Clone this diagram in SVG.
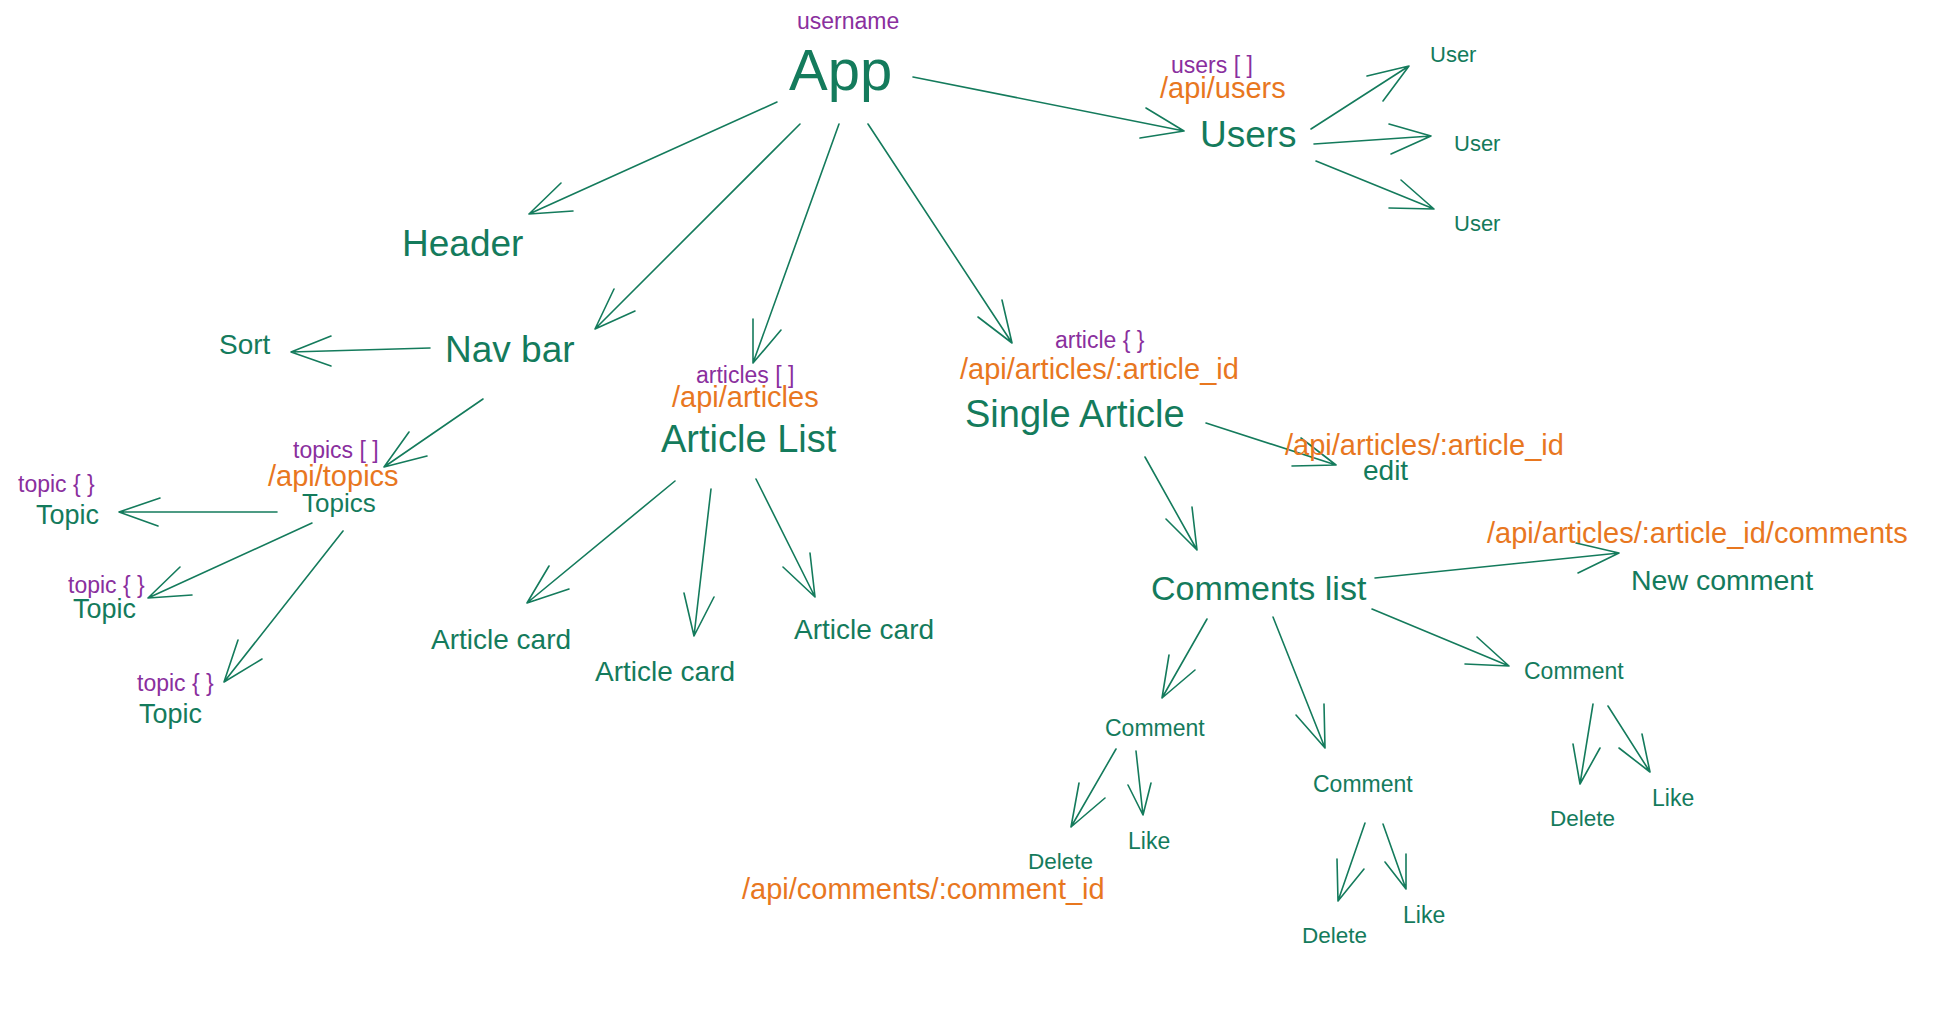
<svg xmlns="http://www.w3.org/2000/svg" width="1946" height="1022" viewBox="0 0 1946 1022">
<style>
text{font-family:"Liberation Sans",Arial,Helvetica,sans-serif}
.g{fill:#147b5c}
.p{fill:#8a2f9e}
.o{fill:#e8771f}
.c path{fill:none;stroke:#147b5c;stroke-width:1.6;stroke-linecap:round;stroke-linejoin:round}
</style>
<rect width="1946" height="1022" fill="#ffffff"/>
<g id="connectors" class="c">
<path d="M913 77L1184 131M1146 108L1184 131L1140 138"/>
<path d="M777 102L529 214M561 183L529 214L573 211"/>
<path d="M800 124L595 329M614 289L595 329L635 311"/>
<path d="M839 124L753 363M753 319L753 363L781 330"/>
<path d="M868 124L1012 343M1002 300L1012 343L978 317"/>
<path d="M1311 129L1409 66M1367 76L1409 66L1383 101"/>
<path d="M1314 144L1431 136M1389 124L1431 136L1391 154"/>
<path d="M1316 161L1434 209M1401 180L1434 209L1389 208"/>
<path d="M430 348L291 352M331 336L291 352L331 366"/>
<path d="M483 399L384 467M409 432L384 467L427 456"/>
<path d="M277 512L119 512M160 498L119 512L158 526"/>
<path d="M312 523L148 598M180 567L148 598L192 595"/>
<path d="M343 531L224 682M238 640L224 682L262 659"/>
<path d="M675 481L527 603M549 566L527 603L569 589"/>
<path d="M711 489L694 636M684 593L694 636L714 597"/>
<path d="M756 479L815 597M783 567L815 597L810 553"/>
<path d="M1206 423L1336 465M1301 438L1336 465L1292 466"/>
<path d="M1145 457L1197 550M1166 519L1197 550L1192 507"/>
<path d="M1375 578L1619 553M1576 543L1619 553L1578 573"/>
<path d="M1207 619L1162 698M1169 655L1162 698L1195 670"/>
<path d="M1273 617L1325 748M1296 715L1325 748L1324 704"/>
<path d="M1372 609L1509 666M1477 637L1509 666L1465 664"/>
<path d="M1116 749L1071 827M1079 783L1071 827L1105 798"/>
<path d="M1136 751L1143 815M1128 785L1143 815L1151 783"/>
<path d="M1365 823L1338 901M1337 859L1338 901L1364 869"/>
<path d="M1383 824L1406 889M1385 862L1406 889L1406 854"/>
<path d="M1593 704L1580 784M1573 744L1580 784L1600 748"/>
<path d="M1608 706L1650 772M1619 748L1650 772L1642 734"/>
</g>
<g id="app"><text class="p" x="797" y="29" font-size="23">username</text><text class="g" x="789" y="90" font-size="58">App</text></g>
<g id="header"><text class="g" x="402" y="256" font-size="37">Header</text></g>
<g id="navbar"><text class="g" x="445" y="362" font-size="37">Nav bar</text></g>
<g id="sort"><text class="g" x="219" y="354" font-size="28">Sort</text></g>
<g id="users"><text class="p" x="1171" y="73" font-size="23">users [ ]</text><text class="o" x="1160" y="98" font-size="29">/api/users</text><text class="g" x="1200" y="147" font-size="37">Users</text></g>
<g id="user1"><text class="g" x="1430" y="62" font-size="22">User</text></g>
<g id="user2"><text class="g" x="1454" y="151" font-size="22">User</text></g>
<g id="user3"><text class="g" x="1454" y="231" font-size="22">User</text></g>
<g id="topics"><text class="p" x="293" y="458" font-size="23">topics [ ]</text><text class="o" x="268" y="486" font-size="29">/api/topics</text><text class="g" x="302" y="512" font-size="26">Topics</text></g>
<g id="topic1"><text class="p" x="18" y="492" font-size="23">topic { }</text><text class="g" x="36" y="524" font-size="27">Topic</text></g>
<g id="topic2"><text class="p" x="68" y="593" font-size="23">topic { }</text><text class="g" x="73" y="618" font-size="27">Topic</text></g>
<g id="topic3"><text class="p" x="137" y="691" font-size="23">topic { }</text><text class="g" x="139" y="723" font-size="27">Topic</text></g>
<g id="articlelist"><text class="p" x="696" y="383" font-size="23">articles [ ]</text><text class="o" x="672" y="407" font-size="29">/api/articles</text><text class="g" x="661" y="452" font-size="38">Article List</text></g>
<g id="card1"><text class="g" x="431" y="649" font-size="28">Article card</text></g>
<g id="card2"><text class="g" x="595" y="681" font-size="28">Article card</text></g>
<g id="card3"><text class="g" x="794" y="639" font-size="28">Article card</text></g>
<g id="singlearticle"><text class="p" x="1055" y="348" font-size="23">article { }</text><text class="o" x="960" y="379" font-size="29">/api/articles/:article_id</text><text class="g" x="965" y="427" font-size="38">Single Article</text></g>
<g id="edit"><text class="o" x="1285" y="455" font-size="29">/api/articles/:article_id</text><text class="g" x="1363" y="480" font-size="28">edit</text></g>
<g id="commentslist"><text class="g" x="1151" y="600" font-size="34">Comments list</text></g>
<g id="newcomment"><text class="o" x="1487" y="543" font-size="29">/api/articles/:article_id/comments</text><text class="g" x="1631" y="590" font-size="28.5">New comment</text></g>
<g id="comment1"><text class="g" x="1105" y="736" font-size="23">Comment</text></g>
<g id="comment2"><text class="g" x="1313" y="792" font-size="23">Comment</text></g>
<g id="comment3"><text class="g" x="1524" y="679" font-size="23">Comment</text></g>
<g id="delete1"><text class="g" x="1028" y="869" font-size="22.5">Delete</text><text class="o" x="742" y="899" font-size="29">/api/comments/:comment_id</text></g>
<g id="like1"><text class="g" x="1128" y="849" font-size="23">Like</text></g>
<g id="delete2"><text class="g" x="1302" y="943" font-size="22.5">Delete</text></g>
<g id="like2"><text class="g" x="1403" y="923" font-size="23">Like</text></g>
<g id="delete3"><text class="g" x="1550" y="826" font-size="22.5">Delete</text></g>
<g id="like3"><text class="g" x="1652" y="806" font-size="23">Like</text></g>
</svg>
